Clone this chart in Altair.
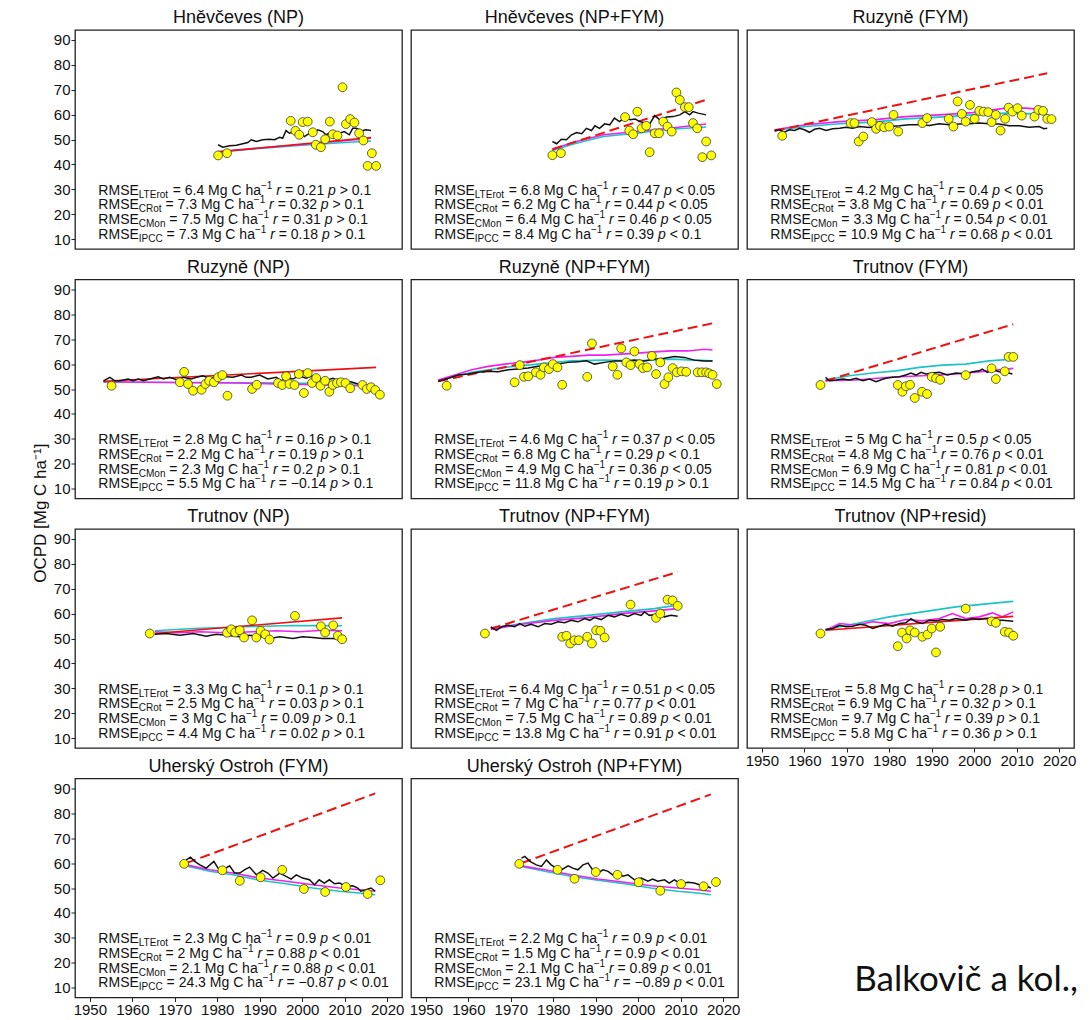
import altair as alt
import pandas as pd

TITLES = ["Hněvčeves (NP)", "Hněvčeves (NP+FYM)", "Ruzyně (FYM)",
          "Ruzyně (NP)", "Ruzyně (NP+FYM)", "Trutnov (FYM)",
          "Trutnov (NP)", "Trutnov (NP+FYM)", "Trutnov (NP+resid)",
          "Uherský Ostroh (FYM)", "Uherský Ostroh (NP+FYM)"]
SUBS = ["LTErot", "CRot", "CMon", "IPCC"]

# ---------------- Panel 1: Hněvčeves (NP)
OBS_X_1 = [1980.2, 1982.3, 1997.3, 1998.4, 1999.3, 2000.1, 2001.3, 2002.5, 2003.2, 2004.4, 2005.4, 2006.5,
           2007.2, 2008.3, 2009.5, 2010.3, 2011.3, 2012.3, 2013.4, 2014.4, 2015.4, 2016.4, 2017.4]
OBS_Y_1 = [43.6, 44.5, 57.5, 53.5, 51.9, 57.0, 57.2, 52.9, 47.9, 46.9, 50.1, 57.2,
           52.1, 51.6, 71.0, 56.2, 58.2, 56.8, 52.5, 49.6, 39.4, 44.5, 39.4]
LTE_X_1 = [1980.2, 1981.3, 1982.9, 1984.5, 1986.0, 1987.2, 1988.0, 1989.2, 1990.7, 1992.3, 1993.5, 1994.7,
           1995.4, 1996.2, 1997.0, 1997.8, 1998.5, 1999.3, 2000.5, 2001.7, 2002.5, 2003.7, 2004.8, 2005.6,
           2006.4, 2007.6, 2008.8, 2009.9, 2011.1, 2011.9, 2012.7, 2013.5, 2014.2, 2015.0, 2016.2]
LTE_Y_1 = [47.9, 46.9, 47.5, 47.7, 48.3, 48.8, 49.9, 49.2, 49.9, 50.1, 49.9, 50.9,
           50.5, 53.6, 52.5, 52.9, 51.9, 53.2, 51.2, 52.5, 51.9, 53.9, 53.2, 51.9,
           52.5, 52.9, 52.5, 53.2, 51.9, 54.5, 54.5, 53.9, 53.5, 53.9, 53.6]
CROT_X_1 = [1980.2, 1990.0, 2000.0, 2010.0, 2016.2]
CROT_Y_1 = [45.2, 46.6, 48.0, 49.5, 50.5]
CMON_X_1 = [1980.2, 1990.0, 2000.0, 2010.0, 2016.2]
CMON_Y_1 = [45.0, 46.4, 47.7, 48.8, 49.4]
IPCC_X_1 = [1980.2, 2016.2]
IPCC_Y_1 = [45.0, 50.8]
RMSE_1 = ["6.4", "7.3", "7.5", "7.3"]
R_1 = ["0.21", "0.32", "0.31", "0.18"]
P_1 = ["> 0.1", "> 0.1", "> 0.1", "> 0.1"]

# ---------------- Panel 2: Hněvčeves (NP+FYM)
OBS_X_2 = [1979.8, 1981.8, 1996.9, 1999.8, 1997.9, 1998.8, 2000.8, 2001.9, 2002.7, 2003.9, 2004.9, 2005.9,
           2006.9, 2007.9, 2009.0, 2009.8, 2011.0, 2011.9, 2012.9, 2013.9, 2016.0, 2015.1, 2017.2]
OBS_Y_2 = [43.7, 44.5, 59.0, 61.2, 53.6, 52.1, 54.5, 55.5, 44.9, 52.5, 52.5, 57.2,
           55.2, 53.2, 68.9, 65.9, 63.0, 63.0, 56.6, 54.5, 49.2, 42.9, 43.6]
LTE_X_2 = [1979.8, 1980.8, 1981.9, 1983.1, 1984.3, 1985.5, 1986.7, 1987.8, 1989.0, 1989.8, 1990.9, 1992.1,
           1993.3, 1994.4, 1995.6, 1996.9, 1998.1, 1999.3, 2000.4, 2001.6, 2002.7, 2003.9, 2005.1, 2006.7,
           2008.2, 2009.8, 2011.0, 2012.1, 2012.9, 2014.1, 2016.0]
LTE_Y_2 = [49.2, 48.3, 50.1, 49.9, 51.9, 52.8, 52.3, 54.5, 53.6, 55.5, 54.5, 56.3,
           55.9, 58.6, 57.2, 59.0, 57.9, 58.2, 57.2, 56.6, 56.3, 59.6, 57.9, 59.0,
           59.2, 59.9, 61.2, 59.9, 61.2, 60.6, 59.9]
CROT_X_2 = [1979.8, 1985.0, 1991.8, 1999.6, 2007.4, 2016.0]
CROT_Y_2 = [46.1, 49.0, 51.9, 53.2, 54.5, 56.2]
CMON_X_2 = [1979.8, 1985.0, 1991.8, 1999.6, 2007.4, 2016.0]
CMON_Y_2 = [45.6, 48.3, 51.2, 52.5, 54.1, 55.0]
IPCC_X_2 = [1979.8, 2016.4]
IPCC_Y_2 = [46.1, 66.2]
RMSE_2 = ["6.8", "6.2", "6.4", "8.4"]
R_2 = ["0.47", "0.44", "0.46", "0.39"]
P_2 = ["< 0.05", "< 0.05", "< 0.05", "< 0.1"]

# ---------------- Panel 3: Ruzyně (FYM)
OBS_X_3 = [1954.8, 1970.9, 1971.8, 1972.8, 1973.9, 1975.9, 1976.9, 1977.8, 1978.8, 1980.0, 1981.0, 1982.1,
           1987.8, 1988.9, 1994.0, 1995.1, 1996.1, 1997.1, 1998.0, 1999.0, 2000.1, 2001.2, 2002.2, 2003.3,
           2004.1, 2005.1, 2006.2, 2007.3, 2008.1, 2009.0, 2010.2, 2011.2, 2014.2, 2015.1, 2016.2, 2017.2, 2018.2]
OBS_Y_3 = [51.5, 56.6, 56.6, 49.2, 51.2, 57.0, 54.3, 55.5, 54.9, 55.2, 59.9, 53.2,
           56.6, 58.6, 58.3, 55.2, 65.3, 60.3, 57.2, 63.9, 58.3, 61.5, 61.2, 61.0,
           57.0, 59.9, 53.6, 58.3, 62.8, 61.2, 62.6, 59.6, 59.2, 61.9, 61.5, 58.3, 58.2]
LTE_X_3 = [1953.0, 1954.2, 1955.3, 1956.5, 1957.7, 1958.9, 1960.0, 1961.2, 1962.4, 1963.6, 1965.1, 1966.7,
           1968.3, 1969.8, 1971.4, 1973.0, 1975.3, 1977.7, 1980.0, 1982.4, 1984.7, 1987.1, 1989.4, 1991.8,
           1994.1, 1996.5, 1998.8, 2001.2, 2003.5, 2005.9, 2008.2, 2010.6, 2012.9, 2015.3, 2016.4, 2017.2]
LTE_Y_3 = [53.5, 53.9, 52.9, 53.9, 53.6, 54.5, 53.9, 52.9, 54.1, 54.5, 53.6, 54.3,
           54.5, 54.9, 54.5, 55.2, 54.8, 55.5, 55.2, 55.5, 55.9, 55.9, 55.6, 56.3,
           55.9, 56.2, 56.3, 56.6, 56.3, 56.2, 55.5, 55.5, 54.9, 55.2, 54.3, 54.5]
CROT_X_3 = [1953.0, 1960.4, 1968.3, 1976.1, 1983.9, 1991.8, 1999.6, 2007.4, 2012.1, 2017.2]
CROT_Y_3 = [53.9, 55.9, 57.2, 57.9, 59.2, 59.9, 60.8, 62.6, 62.6, 61.9]
CMON_X_3 = [1953.0, 1960.4, 1968.3, 1976.1, 1983.9, 1991.8, 1999.6, 2007.4, 2017.2]
CMON_Y_3 = [53.6, 55.2, 56.3, 57.0, 58.3, 59.0, 59.9, 60.6, 60.2]
IPCC_X_3 = [1953.0, 2017.2]
IPCC_Y_3 = [53.5, 76.6]
RMSE_3 = ["4.2", "3.8", "3.3", "10.9"]
R_3 = ["0.4", "0.69", "0.54", "0.68"]
P_3 = ["< 0.05", "< 0.01", "< 0.01", "< 0.01"]

# ---------------- Panel 4: Ruzyně (NP)
OBS_X_4 = [1955.1, 1971.2, 1972.2, 1973.1, 1974.3, 1976.3, 1977.2, 1978.1, 1979.2, 1980.2, 1981.2, 1982.4,
           1988.2, 1989.3, 1994.3, 1995.3, 1996.2, 1997.0, 1998.2, 1999.2, 2000.4, 2001.3, 2002.3, 2003.3,
           2004.3, 2005.4, 2006.4, 2007.2, 2008.2, 2009.1, 2010.2, 2011.3, 2014.2, 2015.2, 2016.2, 2017.2, 2018.3]
OBS_Y_4 = [51.3, 52.7, 56.9, 52.0, 49.3, 49.7, 52.0, 53.3, 52.7, 54.7, 55.6, 47.3,
           50.0, 51.7, 52.4, 51.6, 55.1, 52.0, 51.6, 56.0, 48.4, 56.4, 52.4, 54.4,
           51.3, 53.3, 48.9, 51.6, 52.4, 52.7, 52.4, 50.3, 51.6, 50.0, 50.7, 49.6, 47.7]
LTE_X_4 = [1953.2, 1954.7, 1955.9, 1957.1, 1959.0, 1960.2, 1961.4, 1962.6, 1964.1, 1966.1, 1967.3, 1968.8,
           1970.4, 1972.0, 1973.9, 1975.1, 1976.6, 1978.2, 1980.6, 1983.7, 1985.7, 1986.8, 1988.0, 1990.0,
           1991.9, 1993.9, 1995.1, 1996.2, 1997.8, 1999.3, 2000.9, 2002.5, 2004.1, 2005.6, 2007.2, 2008.8,
           2010.3, 2011.5, 2013.1]
LTE_Y_4 = [53.3, 54.7, 53.3, 53.3, 54.0, 53.3, 54.0, 53.3, 54.0, 54.9, 54.0, 54.7,
           53.7, 54.7, 54.0, 54.7, 55.3, 54.3, 55.1, 54.7, 55.6, 54.7, 54.7, 55.6,
           54.0, 54.7, 53.3, 54.7, 54.0, 55.3, 54.3, 55.3, 54.0, 53.3, 54.3, 53.3,
           52.9, 52.9, 52.0]
CROT_X_4 = [1953.2, 1970.0, 1985.0, 2000.0, 2013.1]
CROT_Y_4 = [52.9, 52.6, 52.4, 51.8, 51.3]
CMON_X_4 = [1953.2, 1970.0, 1985.0, 2000.0, 2013.1]
CMON_Y_4 = [52.7, 52.6, 52.5, 52.3, 52.0]
IPCC_X_4 = [1953.2, 2017.4]
IPCC_Y_4 = [53.1, 58.7]
RMSE_4 = ["2.8", "2.2", "2.3", "5.5"]
R_4 = ["0.16", "0.19", "0.2", "−0.14"]
P_4 = ["> 0.1", "> 0.1", "> 0.1", "> 0.1"]

# ---------------- Panel 5: Ruzyně (NP+FYM)
OBS_X_5 = [1954.9, 1970.9, 1972.1, 1973.1, 1974.1, 1975.9, 1977.0, 1977.8, 1979.0, 1979.9, 1981.0, 1982.1,
           1988.0, 1989.1, 1994.0, 1995.1, 1996.0, 1997.2, 1998.2, 1999.1, 2000.3, 2001.1, 2002.1, 2003.2,
           2004.2, 2005.2, 2006.2, 2007.1, 2008.1, 2009.1, 2010.2, 2011.3, 2014.0, 2015.0, 2016.0, 2016.7,
           2017.5, 2018.5]
OBS_Y_5 = [51.3, 52.7, 59.6, 54.9, 55.1, 56.7, 55.7, 58.7, 58.0, 60.0, 58.7, 51.7,
           54.9, 68.3, 59.1, 55.7, 66.3, 60.7, 59.6, 65.1, 60.0, 58.4, 58.7, 63.3,
           56.0, 60.7, 52.0, 54.7, 58.4, 56.7, 57.1, 56.9, 56.7, 56.7, 56.7, 56.3,
           55.7, 52.0]
LTE_X_5 = [1952.9, 1955.3, 1957.6, 1960.0, 1962.3, 1964.7, 1967.0, 1969.4, 1971.7, 1974.1, 1976.4, 1978.8,
           1981.1, 1983.5, 1985.8, 1987.8, 1989.7, 1992.1, 1994.4, 1996.8, 1999.1, 2001.5, 2003.8, 2006.2,
           2008.5, 2010.9, 2013.2, 2015.6, 2017.5]
LTE_Y_5 = [53.1, 54.3, 55.6, 56.0, 56.7, 57.1, 56.9, 57.7, 58.0, 58.4, 59.1, 59.1,
           60.0, 60.7, 60.9, 61.3, 60.0, 60.7, 61.3, 61.3, 61.7, 61.3, 62.0, 62.4,
           63.1, 62.7, 61.6, 61.3, 61.3]
CROT_X_5 = [1952.9, 1956.8, 1960.8, 1964.7, 1968.6, 1972.5, 1976.4, 1980.3, 1984.2, 1988.2, 1992.1, 1996.0,
            1999.9, 2003.8, 2007.7, 2011.7, 2015.6, 2017.5]
CROT_Y_5 = [53.6, 55.6, 57.7, 59.1, 60.0, 60.7, 61.6, 62.7, 63.1, 63.6, 63.6, 64.0,
            64.4, 64.9, 65.3, 65.3, 66.0, 65.7]
CMON_X_5 = [1952.9, 1960.8, 1968.6, 1976.4, 1984.2, 1992.1, 1999.9, 2007.7, 2017.5]
CMON_Y_5 = [53.3, 56.7, 58.7, 60.0, 61.3, 61.6, 61.3, 62.0, 61.3]
IPCC_X_5 = [1952.9, 2017.5]
IPCC_Y_5 = [53.1, 76.4]
RMSE_5 = ["4.6", "6.8", "4.9", "11.8"]
R_5 = ["0.37", "0.29", "0.36", "0.19"]
P_5 = ["< 0.05", "< 0.1", "< 0.05", "> 0.1"]

# ---------------- Panel 6: Trutnov (FYM)
OBS_X_6 = [1963.8, 1982.0, 1983.1, 1983.9, 1984.9, 1986.0, 1987.7, 1988.9, 1990.0, 1991.0, 1992.0, 1998.0,
           2004.1, 2005.1, 2007.2, 2008.1, 2009.2]
OBS_Y_6 = [51.6, 51.6, 48.9, 51.1, 51.7, 46.4, 48.9, 48.0, 54.9, 54.3, 53.7, 55.6,
           58.3, 54.0, 57.1, 62.9, 62.9]
LTE_X_6 = [1965.0, 1965.9, 1967.5, 1969.1, 1970.6, 1972.2, 1973.8, 1975.3, 1976.9, 1978.1, 1979.2, 1980.8,
           1982.4, 1983.9, 1985.1, 1986.3, 1987.5, 1988.6, 1990.2, 1991.8, 1993.7, 1995.7, 1998.0, 1999.6,
           2001.2, 2001.9, 2003.1, 2004.3, 2005.9, 2007.4, 2009.0]
LTE_Y_6 = [54.7, 53.3, 53.6, 54.0, 53.6, 54.3, 53.3, 54.0, 52.9, 53.7, 54.3, 54.7,
           54.9, 55.6, 56.4, 55.6, 56.7, 56.0, 56.4, 56.7, 55.6, 56.4, 56.0, 56.9,
           57.3, 58.0, 56.7, 57.7, 56.9, 56.7, 56.0]
CROT_X_6 = [1965.0, 1972.2, 1980.0, 1987.8, 1995.7, 2003.5, 2009.2]
CROT_Y_6 = [53.3, 53.6, 54.7, 55.3, 56.0, 57.3, 58.3]
CMON_X_6 = [1965.0, 1970.6, 1976.1, 1981.6, 1987.1, 1992.5, 1998.0, 2003.5, 2009.2]
CMON_Y_6 = [53.6, 55.3, 56.4, 57.3, 58.7, 59.6, 60.0, 61.3, 62.0]
IPCC_X_6 = [1965.0, 2009.2]
IPCC_Y_6 = [53.3, 76.0]
RMSE_6 = ["5", "4.8", "6.9", "14.5"]
R_6 = ["0.5", "0.76", "0.81", "0.84"]
P_6 = ["< 0.05", "< 0.01", "< 0.01", "< 0.01"]

# ---------------- Panel 7: Trutnov (NP)
OBS_X_7 = [1964.1, 1982.3, 1983.3, 1984.2, 1985.3, 1986.3, 1988.2, 1989.2, 1990.2, 1991.3, 1992.3, 1998.3,
           2004.4, 2005.4, 2007.3, 2008.4, 2009.4]
OBS_Y_7 = [52.0, 52.3, 53.7, 52.4, 53.3, 50.4, 57.3, 50.4, 53.1, 51.7, 49.6, 59.1,
           54.9, 52.4, 55.3, 51.1, 49.7]
LTE_X_7 = [1965.3, 1968.0, 1971.2, 1974.3, 1977.4, 1979.8, 1982.1, 1985.3, 1987.6, 1990.0, 1992.3, 1994.7,
           1997.8, 2000.1, 2002.5, 2004.8, 2007.2, 2009.4]
LTE_Y_7 = [51.7, 52.0, 51.3, 52.0, 50.9, 51.7, 51.3, 50.7, 51.3, 50.9, 50.0, 50.7,
           50.0, 50.7, 50.4, 50.0, 50.0, 49.6]
CROT_X_7 = [1965.3, 1970.4, 1975.9, 1982.1, 1988.4, 1993.9, 1999.4, 2004.8, 2009.4]
CROT_Y_7 = [52.7, 52.3, 52.7, 52.3, 52.7, 53.1, 52.7, 53.3, 53.1]
CMON_X_7 = [1965.3, 1974.3, 1986.0, 1997.8, 2009.4]
CMON_Y_7 = [53.1, 54.0, 54.7, 55.2, 55.1]
IPCC_X_7 = [1965.3, 2009.4]
IPCC_Y_7 = [52.0, 58.3]
RMSE_7 = ["3.3", "2.5", "3", "4.4"]
R_7 = ["0.1", "0.03", "0.09", "0.02"]
P_7 = ["> 0.1", "> 0.1", "> 0.1", "> 0.1"]

# ---------------- Panel 8: Trutnov (NP+FYM)
OBS_X_8 = [1963.9, 1982.1, 1983.1, 1984.0, 1985.0, 1986.0, 1988.0, 1989.1, 1990.1, 1991.1, 1992.1, 1998.2,
           2004.2, 2005.2, 2006.9, 2008.1, 2009.3]
OBS_Y_8 = [52.0, 50.7, 51.1, 48.0, 49.3, 49.3, 50.7, 48.0, 53.3, 53.1, 50.4, 63.6,
           58.3, 60.0, 65.6, 65.3, 63.1]
LTE_X_8 = [1965.3, 1966.6, 1967.8, 1969.4, 1970.9, 1972.1, 1973.3, 1974.8, 1976.4, 1978.0, 1979.5, 1981.1,
           1982.7, 1984.2, 1985.8, 1987.4, 1988.6, 1989.7, 1991.3, 1992.9, 1994.4, 1996.0, 1997.6, 1999.1,
           2000.7, 2001.5, 2002.6, 2004.6, 2006.2, 2007.7, 2009.3]
LTE_Y_8 = [54.7, 53.3, 54.7, 55.3, 54.7, 56.0, 54.9, 55.7, 54.7, 56.0, 55.7, 56.7,
           56.3, 57.3, 56.7, 58.0, 57.3, 58.4, 57.6, 59.3, 58.7, 59.7, 58.9, 60.0,
           59.3, 60.7, 59.3, 59.7, 58.7, 59.3, 58.9]
CROT_X_8 = [1965.3, 1972.5, 1980.3, 1988.2, 1996.0, 2003.8, 2009.3]
CROT_Y_8 = [53.6, 55.7, 57.3, 58.4, 60.0, 61.1, 62.0]
CMON_X_8 = [1965.3, 1972.5, 1980.3, 1988.2, 1996.0, 2003.8, 2008.1]
CMON_Y_8 = [54.0, 56.0, 58.0, 59.3, 60.7, 62.0, 63.1]
IPCC_X_8 = [1965.3, 2009.3]
IPCC_Y_8 = [54.0, 76.7]
RMSE_8 = ["6.4", "7", "7.5", "13.8"]
R_8 = ["0.51", "0.77", "0.89", "0.91"]
P_8 = ["< 0.05", "< 0.01", "< 0.01", "< 0.01"]

# ---------------- Panel 9: Trutnov (NP+resid)
OBS_X_9 = [1963.8, 1982.0, 1983.0, 1984.1, 1984.9, 1986.0, 1987.8, 1989.0, 1990.0, 1991.0, 1992.0, 1998.0,
           2004.1, 2005.1, 2007.2, 2008.2, 2009.2]
OBS_Y_9 = [52.0, 46.9, 52.4, 50.0, 53.3, 52.4, 50.7, 51.6, 54.0, 44.4, 54.7, 62.0,
           56.9, 56.3, 52.7, 52.4, 51.1]
LTE_X_9 = [1965.0, 1966.7, 1968.3, 1969.8, 1971.4, 1973.0, 1974.5, 1976.1, 1977.7, 1979.2, 1980.8, 1982.4,
           1983.9, 1985.1, 1986.3, 1987.8, 1989.4, 1991.0, 1992.5, 1994.1, 1995.7, 1998.0, 1999.6, 2001.2,
           2002.7, 2004.3, 2006.6, 2009.2]
LTE_Y_9 = [53.6, 54.0, 55.3, 54.7, 54.9, 55.7, 55.3, 54.0, 54.9, 55.7, 54.9, 56.0,
           56.3, 58.0, 56.7, 56.0, 57.3, 57.1, 57.6, 57.3, 58.0, 57.3, 58.0, 57.6,
           58.0, 57.3, 57.3, 56.9]
CROT_X_9 = [1965.0, 1968.3, 1972.2, 1976.1, 1980.0, 1983.9, 1987.8, 1991.8, 1994.9, 1998.0, 2001.2, 2004.3,
            2006.6, 2009.2]
CROT_Y_9 = [53.3, 56.0, 55.3, 56.7, 56.0, 57.6, 57.1, 58.0, 60.0, 58.0, 58.7, 60.3,
            58.7, 60.7]
CMON_X_9 = [1965.0, 1972.2, 1980.0, 1987.8, 1995.7, 2003.5, 2009.2]
CMON_Y_9 = [53.6, 56.0, 58.7, 60.7, 62.7, 64.0, 64.9]
IPCC_X_9 = [1965.0, 2009.2]
IPCC_Y_9 = [53.3, 58.9]
RMSE_9 = ["5.8", "6.9", "9.7", "5.8"]
R_9 = ["0.28", "0.32", "0.39", "0.36"]
P_9 = ["> 0.1", "> 0.1", "> 0.1", "> 0.1"]

# ---------------- Panel 10: Uherský Ostroh (FYM)
OBS_X_10 = [1972.2, 1981.2, 1985.3, 1990.2, 1995.3, 2000.4, 2005.4, 2010.3, 2015.4, 2018.4]
OBS_Y_10 = [59.7, 57.1, 52.9, 54.3, 57.3, 49.6, 48.4, 50.4, 47.6, 53.1]
LTE_X_10 = [1972.7, 1973.7, 1974.7, 1975.9, 1977.4, 1979.2, 1980.2, 1981.3, 1982.9, 1984.1, 1985.3, 1986.4,
            1987.6, 1989.2, 1990.7, 1991.9, 1993.1, 1994.7, 1996.2, 1997.4, 1998.6, 2000.1, 2001.7, 2002.9,
            2004.0, 2005.2, 2006.4, 2007.6, 2008.8, 2010.3, 2011.9, 2013.1, 2013.8, 2015.0, 2016.2, 2017.2]
LTE_Y_10 = [61.3, 62.4, 60.7, 59.3, 58.0, 60.7, 58.0, 57.3, 58.9, 56.0, 56.0, 57.3,
            58.4, 55.3, 57.1, 56.0, 54.0, 56.0, 54.7, 53.6, 55.3, 54.0, 53.3, 51.3,
            53.3, 52.0, 53.3, 51.7, 52.0, 50.7, 50.9, 50.0, 48.7, 49.3, 50.0, 48.7]
CROT_X_10 = [1972.7, 1978.2, 1983.7, 1990.0, 1996.2, 2002.5, 2008.8, 2013.5, 2017.2]
CROT_Y_10 = [59.3, 57.3, 56.0, 54.0, 52.7, 51.3, 50.0, 49.3, 48.7]
CMON_X_10 = [1972.7, 1978.2, 1983.7, 1990.0, 1996.2, 2002.5, 2008.8, 2013.5, 2017.2]
CMON_Y_10 = [58.9, 56.7, 55.3, 53.1, 51.7, 50.0, 48.7, 48.0, 47.3]
IPCC_X_10 = [1972.7, 2017.2]
IPCC_Y_10 = [60.0, 88.0]
RMSE_10 = ["2.3", "2", "2.1", "24.3"]
R_10 = ["0.9", "0.88", "0.88", "−0.87"]
P_10 = ["< 0.01", "< 0.01", "< 0.01", "< 0.01"]

# ---------------- Panel 11: Uherský Ostroh (NP+FYM)
OBS_X_11 = [1972.0, 1981.0, 1985.0, 1990.0, 1995.1, 2000.1, 2005.2, 2010.1, 2015.4, 2018.3]
OBS_Y_11 = [59.7, 57.3, 53.7, 56.4, 55.3, 52.3, 48.9, 51.6, 50.7, 52.4]
LTE_X_11 = [1972.5, 1973.3, 1974.5, 1976.0, 1977.2, 1978.4, 1979.5, 1980.7, 1981.9, 1983.5, 1984.6, 1985.8,
            1987.0, 1988.2, 1989.3, 1990.5, 1991.7, 1992.9, 1994.0, 1995.2, 1996.4, 1997.6, 1999.1, 2000.7,
            2002.3, 2003.4, 2004.6, 2006.2, 2007.3, 2008.5, 2010.1, 2011.7, 2013.2, 2014.4, 2016.0, 2017.1]
LTE_Y_11 = [62.0, 62.7, 60.7, 59.3, 58.7, 61.3, 59.3, 58.0, 57.3, 58.9, 58.0, 57.3,
            59.3, 60.0, 57.3, 56.0, 57.3, 56.7, 55.3, 56.0, 54.7, 55.3, 53.3, 54.0,
            52.7, 53.6, 52.7, 53.3, 52.0, 53.3, 51.7, 52.3, 52.0, 51.3, 50.9, 50.0]
CROT_X_11 = [1972.5, 1978.0, 1984.2, 1990.5, 1996.8, 2003.0, 2009.3, 2014.0, 2017.1]
CROT_Y_11 = [58.9, 57.3, 55.3, 53.6, 52.3, 50.9, 50.0, 49.3, 48.7]
CMON_X_11 = [1972.5, 1978.0, 1984.2, 1990.5, 1996.8, 2003.0, 2009.3, 2014.0, 2017.1]
CMON_Y_11 = [58.7, 56.7, 54.7, 53.1, 51.7, 50.0, 48.7, 48.0, 47.3]
IPCC_X_11 = [1972.5, 2017.1]
IPCC_Y_11 = [60.0, 87.6]
RMSE_11 = ["2.2", "1.5", "2.1", "23.1"]
R_11 = ["0.9", "0.9", "0.89", "−0.89"]
P_11 = ["< 0.01", "< 0.01", "< 0.01", "< 0.01"]

IPCC_DASHED = [False, True, True, False, True, True, False, True, False, True, True]
CITATION = "Balkovič a kol., 2020"

OBS_X = [OBS_X_1, OBS_X_2, OBS_X_3, OBS_X_4, OBS_X_5, OBS_X_6, OBS_X_7, OBS_X_8, OBS_X_9, OBS_X_10, OBS_X_11]
OBS_Y = [OBS_Y_1, OBS_Y_2, OBS_Y_3, OBS_Y_4, OBS_Y_5, OBS_Y_6, OBS_Y_7, OBS_Y_8, OBS_Y_9, OBS_Y_10, OBS_Y_11]
LTE_X = [LTE_X_1, LTE_X_2, LTE_X_3, LTE_X_4, LTE_X_5, LTE_X_6, LTE_X_7, LTE_X_8, LTE_X_9, LTE_X_10, LTE_X_11]
LTE_Y = [LTE_Y_1, LTE_Y_2, LTE_Y_3, LTE_Y_4, LTE_Y_5, LTE_Y_6, LTE_Y_7, LTE_Y_8, LTE_Y_9, LTE_Y_10, LTE_Y_11]
CROT_X = [CROT_X_1, CROT_X_2, CROT_X_3, CROT_X_4, CROT_X_5, CROT_X_6, CROT_X_7, CROT_X_8, CROT_X_9, CROT_X_10, CROT_X_11]
CROT_Y = [CROT_Y_1, CROT_Y_2, CROT_Y_3, CROT_Y_4, CROT_Y_5, CROT_Y_6, CROT_Y_7, CROT_Y_8, CROT_Y_9, CROT_Y_10, CROT_Y_11]
CMON_X = [CMON_X_1, CMON_X_2, CMON_X_3, CMON_X_4, CMON_X_5, CMON_X_6, CMON_X_7, CMON_X_8, CMON_X_9, CMON_X_10, CMON_X_11]
CMON_Y = [CMON_Y_1, CMON_Y_2, CMON_Y_3, CMON_Y_4, CMON_Y_5, CMON_Y_6, CMON_Y_7, CMON_Y_8, CMON_Y_9, CMON_Y_10, CMON_Y_11]
IPCC_X = [IPCC_X_1, IPCC_X_2, IPCC_X_3, IPCC_X_4, IPCC_X_5, IPCC_X_6, IPCC_X_7, IPCC_X_8, IPCC_X_9, IPCC_X_10, IPCC_X_11]
IPCC_Y = [IPCC_Y_1, IPCC_Y_2, IPCC_Y_3, IPCC_Y_4, IPCC_Y_5, IPCC_Y_6, IPCC_Y_7, IPCC_Y_8, IPCC_Y_9, IPCC_Y_10, IPCC_Y_11]
RMSE = [RMSE_1, RMSE_2, RMSE_3, RMSE_4, RMSE_5, RMSE_6, RMSE_7, RMSE_8, RMSE_9, RMSE_10, RMSE_11]
RVAL = [R_1, R_2, R_3, R_4, R_5, R_6, R_7, R_8, R_9, R_10, R_11]
PVAL = [P_1, P_2, P_3, P_4, P_5, P_6, P_7, P_8, P_9, P_10, P_11]

# ---------------- layout / style
W, H = 327, 219
XD = [1946.5, 2023.5]
YD = [6, 94]
PXPY = W / (XD[1] - XD[0])
TEXT_X0 = 1952.0
TEXT_Y = [29.4, 23.5, 17.6, 11.7]
FONT = "Liberation Sans"
C_LTE, C_CROT, C_CMON, C_IPCC = "#111111", "#EE22EE", "#1CC4C4", "#EE1111"
SHOW_Y = {0, 3, 6, 9}
SHOW_X = {8, 9, 10}

# Arial / Liberation Sans advance widths (per 1000 em) for laying out the sub/superscript pieces
CW = {c: 556 for c in "0123456789"}
CW.update({".": 278, " ": 278, "=": 584, "<": 584, ">": 584, "−": 584, "M": 833, "g": 556, "C": 722,
           "h": 556, "a": 556, "r": 333, "p": 556, "R": 722, "S": 667, "E": 667, "L": 556, "T": 611,
           "o": 556, "t": 278, "P": 667, "I": 278, "n": 556})


def text_w(s, size):
    return sum(CW.get(ch, 556) for ch in s) * size / 1000.0


def xenc(show):
    axis = alt.Axis(values=list(range(1950, 2021, 10)), format="d") if show else None
    return alt.X("x:Q", scale=alt.Scale(domain=XD, nice=False, zero=False), axis=axis, title=None)


def yenc(show):
    axis = alt.Axis(values=list(range(10, 91, 10)), format="d") if show else None
    return alt.Y("y:Q", scale=alt.Scale(domain=YD, nice=False, zero=False), axis=axis, title=None)


def stat_table(k):
    rows = []
    for i in range(4):
        segs = [("n", "RMSE"), ("sub", SUBS[i]), ("n", " = " + RMSE[k][i] + " Mg C ha"), ("sup", "−1"),
                ("n", " "), ("it", "r"), ("n", " = " + RVAL[k][i] + " "), ("it", "p"), ("n", " " + PVAL[k][i])]
        off = 0.0
        for style, s in segs:
            size = 10 if style in ("sub", "sup") else 14
            lead = len(s) - len(s.lstrip(" "))
            txt = s.strip(" ")
            if txt:
                rows.append({"x": TEXT_X0 + (off + text_w(s[:lead], size)) / PXPY,
                             "y": TEXT_Y[i], "t": txt, "style": style})
            off += text_w(s, size)
    return pd.DataFrame(rows)


def panel(k):
    sx, sy = k in SHOW_X, k in SHOW_Y
    enc = dict(x=xenc(sx), y=yenc(sy))
    layers = []
    for xs, ys, col, sw in [(CMON_X[k], CMON_Y[k], C_CMON, 1.6), (CROT_X[k], CROT_Y[k], C_CROT, 1.6)]:
        layers.append(alt.Chart(pd.DataFrame({"x": xs, "y": ys})).mark_line(color=col, strokeWidth=sw).encode(**enc))
    kw = dict(color=C_IPCC, strokeWidth=2.0 if IPCC_DASHED[k] else 1.6)
    if IPCC_DASHED[k]:
        kw["strokeDash"] = [10, 5]
    layers.append(alt.Chart(pd.DataFrame({"x": IPCC_X[k], "y": IPCC_Y[k]})).mark_line(**kw).encode(**enc))
    layers.append(alt.Chart(pd.DataFrame({"x": LTE_X[k], "y": LTE_Y[k]})).mark_line(
        color=C_LTE, strokeWidth=1.5).encode(**enc))
    layers.append(alt.Chart(pd.DataFrame({"x": OBS_X[k], "y": OBS_Y[k]})).mark_point(
        shape="circle", filled=True, fill="#FFFF00", stroke="#3a3a3a", strokeWidth=0.8, size=78, opacity=1
    ).encode(**enc))
    st = stat_table(k)
    styles = {
        "n": dict(fontSize=14),
        "sub": dict(fontSize=10, dy=4),
        "sup": dict(fontSize=10, dy=-5),
        "it": dict(fontSize=14, fontStyle="italic"),
    }
    for name, props in styles.items():
        layers.append(alt.Chart(st[st["style"] == name]).mark_text(
            align="left", baseline="middle", font=FONT, color="#111111", **props
        ).encode(text="t:N", **enc))
    return alt.layer(*layers).properties(
        width=W, height=H,
        title=alt.TitleParams(TITLES[k], fontSize=18, font=FONT, fontWeight="normal", color="#111111",
                              offset=3, anchor="middle"))


cells = [panel(k) for k in range(11)]
cite = alt.Chart(pd.DataFrame({"x": [1971.2], "y": [13.0], "t": [CITATION]})).mark_text(
    align="left", baseline="middle", font="Lato", fontSize=35, color="#111111", clip=True
).encode(x=xenc(False), y=yenc(False), text="t:N").properties(
    width=W + 7, height=H, view=alt.ViewBackground(stroke=None))
cells.append(cite)

chart = alt.concat(*cells, columns=3, spacing={"row": 30.5, "column": 9}, bounds="flush", align="each").properties(
    title=alt.TitleParams("OCPD [Mg C ha⁻¹]", orient="left", anchor="middle", fontSize=17, font=FONT,
                          fontWeight="normal", color="#111111", offset=3),
    padding={"left": 23, "top": 0, "right": 0, "bottom": 0},
).configure_view(stroke="#222222", strokeWidth=1.3).configure_axis(
    labelFont=FONT, labelFontSize=15, labelColor="#111111", tickColor="#222222", tickSize=4,
    labelPadding=1, domain=False, grid=False
)

chart.save("out.html", embed_options={"renderer": "svg", "actions": False})
